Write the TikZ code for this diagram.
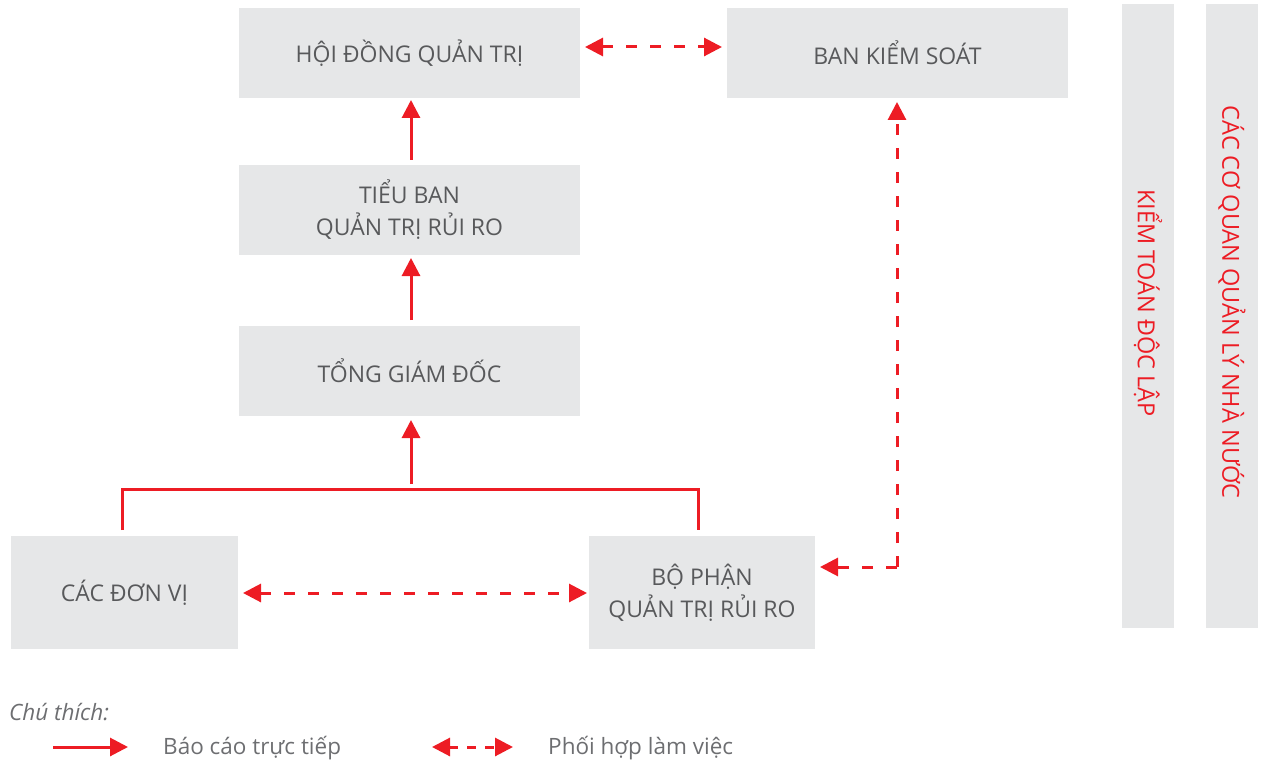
\documentclass[tikz,border=0pt]{standalone}
\usepackage{fontspec}
\setmainfont{Open Sans}
\usetikzlibrary{arrows.meta}
\definecolor{boxgray}{HTML}{E6E7E8}
\definecolor{txtgray}{HTML}{58595B}
\definecolor{leggray}{HTML}{6D6E71}
\definecolor{vnred}{HTML}{ED1C24}
\tikzset{
  orgbox/.style={fill=boxgray, draw=none, inner sep=0pt, text=txtgray, align=center,
     font=\fontsize{23}{32}\selectfont},
  vbar/.style={fill=boxgray, draw=none, inner sep=0pt},
  vtext/.style={text=vnred, rotate=-90, inner sep=0pt, font=\fontsize{23.5}{28}\selectfont},
  tip/.style={-{Triangle[length=18pt,width=18pt]}},
  bitip/.style={{Triangle[length=18pt,width=18pt]}-{Triangle[length=18pt,width=18pt]}},
  solidline/.style={draw=vnred, line width=3pt},
  dashline/.style={draw=vnred, line width=3pt, dash pattern=on 11pt off 13pt},
  legtext/.style={text=leggray, anchor=west, inner sep=0pt, font=\fontsize{22.5}{26}\selectfont},
}
\begin{document}
\begin{tikzpicture}[x=1pt,y=-1pt]
\useasboundingbox (0,0) rectangle (1264,762);
% boxes
\node[orgbox, minimum width=341pt, minimum height=90pt] (hdqt) at (409.5,53) {HỘI ĐỒNG QUẢN TRỊ};
\node[orgbox, minimum width=341pt, minimum height=90pt] (bks) at (897.5,53) {BAN KIỂM SOÁT};
\node[orgbox, minimum width=341pt, minimum height=90pt] (tb) at (409.5,210) {TIỂU BAN\\QUẢN TRỊ RỦI RO};
\node[orgbox, minimum width=341pt, minimum height=90pt] (tgd) at (409.5,371) {TỔNG GIÁM ĐỐC};
\node[orgbox, minimum width=227pt, minimum height=113pt] (dv) at (124.5,592.5) {CÁC ĐƠN VỊ};
\node[orgbox, minimum width=226pt, minimum height=113pt] (bp) at (702,592.5) {BỘ PHẬN\\QUẢN TRỊ RỦI RO};
% vertical bars
\node[vbar, minimum width=52pt, minimum height=624pt] (ktdl) at (1148,316) {};
\node[vbar, minimum width=52pt, minimum height=624pt] (cqql) at (1232,316) {};
\node[vtext] (ktdlt) at (1148,303) {KIỂM TOÁN ĐỘC LẬP};
\node[vtext] (cqqlt) at (1232,302) {CÁC CƠ QUAN QUẢN LÝ NHÀ NƯỚC};
% connector end points
\coordinate (tbtop) at (411,160);
\coordinate (hdqtbot) at (411,100);
\coordinate (tgdtop) at (411,320);
\coordinate (tbbot) at (411,258);
\coordinate (bl) at (122,530);
\coordinate (br) at (698,530);
\coordinate (join) at (411,484);
\coordinate (tgdbot) at (411,420);
\coordinate (hdqtr) at (585,47);
\coordinate (bksl) at (722,47);
\coordinate (dvr) at (243,593);
\coordinate (bpl) at (587,593);
\coordinate (bksbot) at (897,102);
\coordinate (bend) at (897,567);
\coordinate (bpr) at (820,567);
% solid arrows
\draw[solidline, tip] (tbtop) -- (hdqtbot);
\draw[solidline, tip] (tgdtop) -- (tbbot);
\draw[solidline] (bl) -- (122,489) -- (698,489) -- (br);
\draw[solidline, tip] (join) -- (tgdbot);
% dashed arrows
\draw[dashline, bitip] (hdqtr) -- (bksl);
\draw[dashline, bitip] (dvr) -- (bpl);
\draw[dashline, tip] (bend) -- (bksbot);
\draw[dashline, tip] (bend) -- (bpr);
% legend
\node[legtext, font=\fontsize{22.5}{26}\selectfont\itshape] (cth) at (9,712) {Chú thích:};
\coordinate (l1a) at (53,747);
\coordinate (l1b) at (128,747);
\draw[solidline, tip] (l1a) -- (l1b);
\node[legtext] (l1t) at (163,748) {Báo cáo trực tiếp};
\coordinate (l2a) at (432,747);
\coordinate (l2b) at (513,747);
\draw[draw=vnred, line width=3pt, dash pattern=on 9pt off 9pt, bitip] (l2a) -- (l2b);
\node[legtext] (l2t) at (548,748) {Phối hợp làm việc};
\end{tikzpicture}
\end{document}
